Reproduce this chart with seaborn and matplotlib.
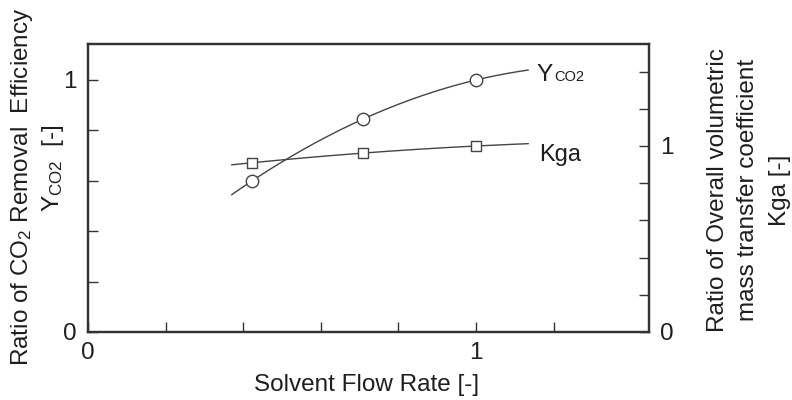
import numpy as np
import pandas as pd
import matplotlib
matplotlib.use("Agg")
import matplotlib.pyplot as plt
import seaborn as sns

# ---- data ----
flow_rate = [0.423, 0.709, 1.0]
y_co2 = [0.60, 0.845, 1.0]
kga = [0.91, 0.962, 1.0]
fit_x_range = [0.37, 1.135]      # extent of the fitted trend curves
x_ticks = [0, 0.2, 0.4, 0.6, 0.8, 1.0, 1.2]
x_tick_labels = ["0", "", "", "", "", "1", ""]
yl_ticks = [0, 0.2, 0.4, 0.6, 0.8, 1.0]
yl_tick_labels = ["0", "", "", "", "", "1"]
yr_ticks = [0, 0.2, 0.4, 0.6, 0.8, 1.0, 1.2, 1.4]
yr_tick_labels = ["0", "", "", "", "", "1", "", ""]

sns.set_style("ticks")
plt.rcParams["font.family"] = ["Liberation Sans", "DejaVu Sans"]
plt.rcParams["mathtext.fontset"] = "custom"
plt.rcParams["mathtext.rm"] = "Liberation Sans"
plt.rcParams["mathtext.it"] = "Liberation Sans"

W, H = 792, 400
fig = plt.figure(figsize=(W / 100, H / 100), dpi=100)
L, R, T, B = 88, 649, 44, 332
ax = fig.add_axes([L / W, (H - B) / H, (R - L) / W, (B - T) / H])
ax2 = ax.twinx()

line_col = "#444444"
txt_col = "#1e1e1e"
df = pd.DataFrame({"x": flow_rate, "y": y_co2, "k": kga})

xs = np.linspace(fit_x_range[0], fit_x_range[1], 200)
fit_y = np.polyval(np.polyfit(flow_rate, y_co2, 2), xs)
fit_k = np.polyval(np.polyfit(flow_rate, kga, 2), xs)

sns.lineplot(x=xs, y=fit_y, ax=ax, color=line_col, lw=1.0, zorder=2)
sns.scatterplot(data=df, x="x", y="y", ax=ax, marker="o", s=80,
                facecolor="white", edgecolor=line_col, linewidth=1.0, zorder=3)
sns.lineplot(x=xs, y=fit_k, ax=ax2, color=line_col, lw=1.0, zorder=2)
sns.scatterplot(data=df, x="x", y="k", ax=ax2, marker="s", s=45,
                facecolor="white", edgecolor=line_col, linewidth=1.0, zorder=3)

ax.set_xlim(0, (R - L) / 388)
ax.set_ylim(0, (B - T) / 252)
ax2.set_ylim(0, (B - T) / 186)

fs = 17.5
ax.set_xticks(x_ticks)
ax.set_xticklabels(x_tick_labels, fontsize=fs)
ax.set_yticks(yl_ticks)
ax.set_yticklabels(yl_tick_labels, fontsize=fs)
ax2.set_yticks(yr_ticks)
ax2.set_yticklabels(yr_tick_labels, fontsize=fs)

for a in (ax, ax2):
    a.tick_params(direction="in", length=7, width=1.0, color="#333333",
                  labelcolor=txt_col, pad=8)
    for s in a.spines.values():
        s.set_visible(True)
        s.set_linewidth(1.6)
        s.set_color("#333333")
ax.tick_params(axis="x", pad=7)
ax.set_xlabel("")
ax.set_ylabel("")
ax2.set_ylabel("")

# axis titles
fig.text(367 / W, 1 - 385 / H, "Solvent Flow Rate [-]", ha="center", va="center",
         fontsize=fs, color=txt_col)
fig.text(22 / W, 1 - 187 / H, "Ratio of CO$_2$ Removal  Efficiency", rotation=90,
         ha="center", va="center", fontsize=fs, color=txt_col)
fig.text(53 / W, 1 - 168 / H, "Y$_{\\mathrm{CO2}}$  [-]", rotation=90,
         ha="center", va="center", fontsize=fs, color=txt_col)
for xpos, txt in [(718, "Ratio of Overall volumetric"),
                  (748, "mass transfer coefficient"),
                  (780, "Kga [-]")]:
    fig.text(xpos / W, 1 - 190 / H, txt, rotation=90, ha="center", va="center",
             fontsize=fs, color=txt_col)

# series labels
fig.text(536 / W, 1 - 81 / H, "Y", ha="left", va="baseline", fontsize=17.5,
         color=txt_col)
fig.text(554 / W, 1 - 81 / H, "CO2", ha="left", va="baseline", fontsize=10.5,
         color=txt_col)
fig.text(539 / W, 1 - 161 / H, "Kga", ha="left", va="baseline", fontsize=17,
         color=txt_col)

fig.savefig("out.png", dpi=100)
